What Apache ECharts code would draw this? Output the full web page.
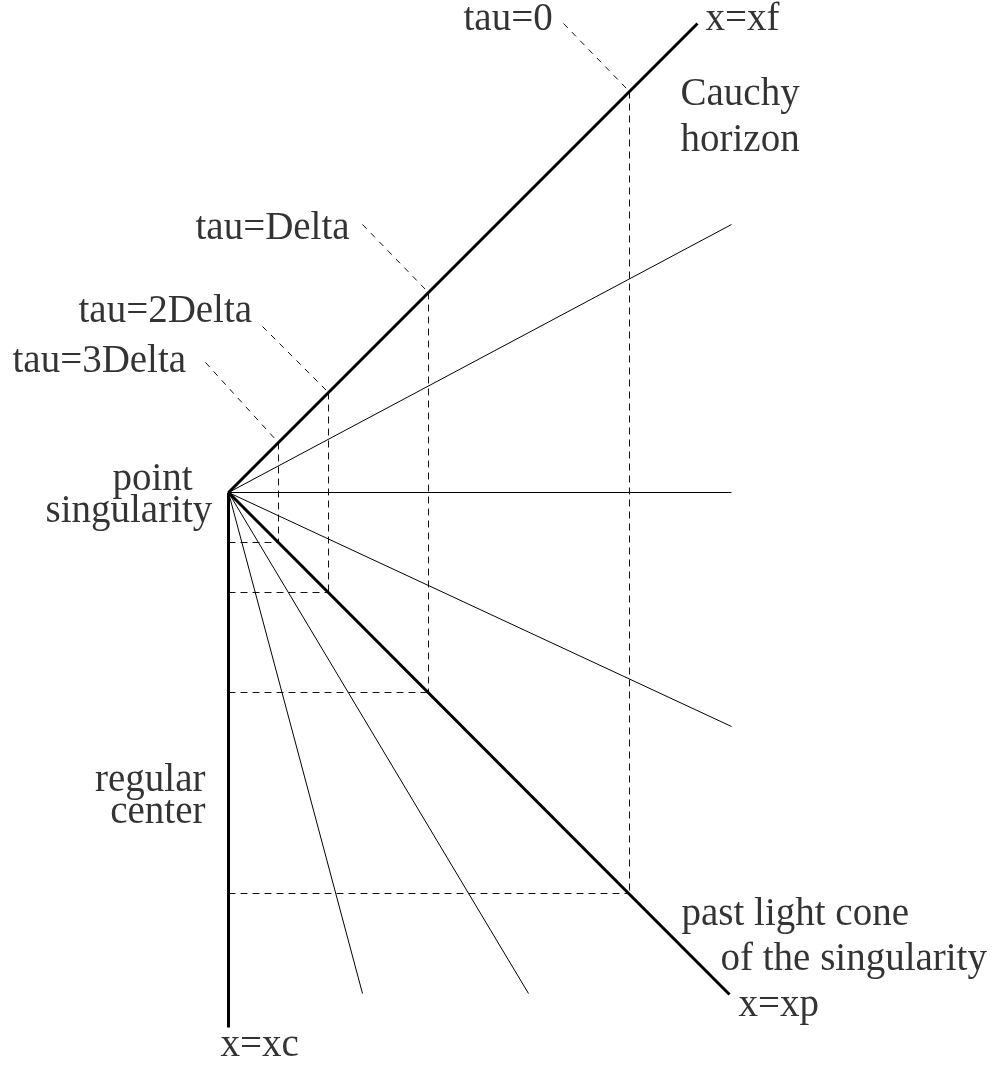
<!DOCTYPE html>
<html>
<head>
<meta charset="utf-8">
<script src="https://cdn.jsdelivr.net/npm/echarts@6/dist/echarts.min.js"></script>
<style>html,body{margin:0;padding:0;background:#fff}#c{width:1000px;height:1067px}</style>
</head>
<body>
<div id="c"></div>
<script>
// Diagram coordinates: origin = point singularity, x to the right, y upward.
// Thick boundary lines (end points, from origin)
const cauchyHorizonEnd = [469, 469];
const pastLightConeEnd = [501, -502];
const regularCenterEnd = [0, -535];
// Thin rays from the singularity (end points)
const rayEnds = [[503, 268], [503, 0], [503, -234], [300, -501], [134, -501]];
// Slice positions (tau = 0, Delta, 2Delta, 3Delta) along x
const sliceX = [401, 200, 100, 50];
// Leader line starts for tau labels
const leaderStarts = [[335, 469], [134, 268], [34, 166], [-23, 130]];
// Text labels: text, x, y (baseline), alignment
const labelTexts = ["tau=0", "x=xf", "Cauchy", "horizon", "tau=Delta", "tau=2Delta", "tau=3Delta",
  "point", "singularity", "regular", "center", "past light cone", "of the singularity", "x=xp", "x=xc"];
const labelX = [235, 477, 452, 452, -33, -150, -216, -116, -183, -23, -23, 453, 492, 510, -8];
const labelY = [460, 460, 385, 339, 251, 168, 118, 0, -32, -301, -333, -435, -480, -526, -566];
const labelAlign = ["left", "left", "left", "left", "left", "left", "left", "left", "left",
  "right", "right", "left", "left", "left", "left"];

const series = [];
function seg(p, q, width, dash, color) {
  series.push({
    type: 'line', data: [p, q], symbol: 'none', silent: true, animation: false,
    lineStyle: { width: width, type: dash || 'solid', color: color || '#000' },
    z: dash ? 1 : 2
  });
}
const O = [0, 0];
seg(O, cauchyHorizonEnd, 3);
seg(O, pastLightConeEnd, 3);
seg(O, regularCenterEnd, 3);
rayEnds.forEach(e => seg(O, e, 1));
sliceX.forEach(x => {
  seg([x, x], [x, -x], 1, [7, 5], '#111');
  seg([0, -x], [x, -x], 1, [7, 5], '#111');
});
leaderStarts.forEach((s, i) => {
  const x = sliceX[i];
  seg(s, [x - 2, x + 2], 1, [6, 6], '#111');
});
series.push({
  type: 'scatter', symbolSize: 0, silent: true, animation: false,
  itemStyle: { color: 'rgba(0,0,0,0)' },
  data: labelTexts.map((t, i) => ({
    value: [labelX[i], labelY[i]],
    label: {
      show: true, formatter: t, position: [0, 0], align: labelAlign[i],
      verticalAlign: 'middle', offset: [0, -13],
      fontFamily: 'Liberation Serif', fontSize: 39, color: '#000',
      textBorderWidth: 0
    }
  })),
  z: 5
});

const chart = echarts.init(document.getElementById('c'), null, { renderer: 'canvas' });
chart.setOption({
  backgroundColor: '#fff',
  animation: false,
  grid: { left: 0, right: 0, top: 0, bottom: 0 },
  xAxis: { type: 'value', min: -228.5, max: 771.5, show: false },
  yAxis: { type: 'value', min: -574.5, max: 492.5, show: false },
  series: series
});
</script>
</body>
</html>
